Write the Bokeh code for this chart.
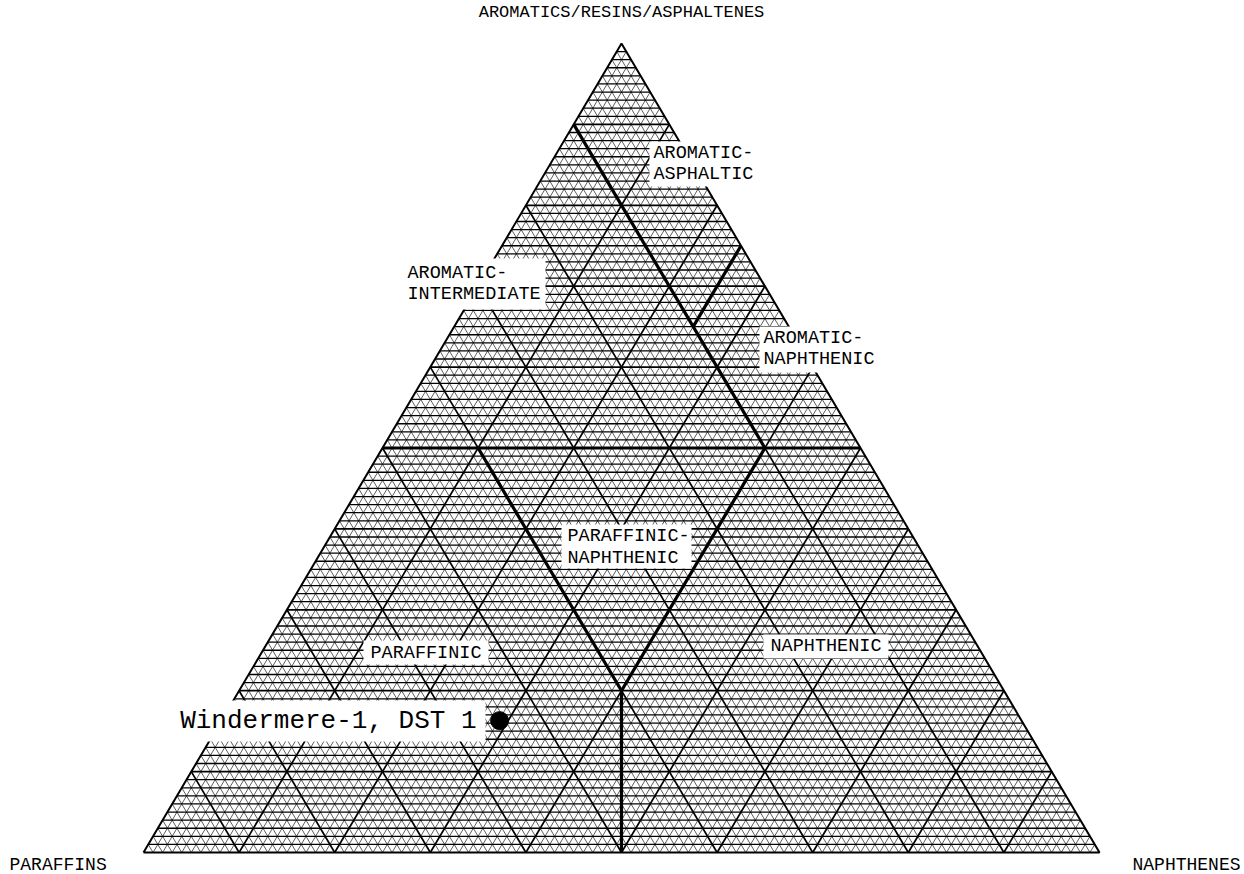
from bokeh.plotting import figure
from bokeh.models import Range1d
from bokeh.core.properties import value
from bokeh.embed import file_html
from bokeh.resources import INLINE

# ---------------- data ----------------
vertex_labels = ["PARAFFINS", "NAPHTHENES", "AROMATICS/RESINS/ASPHALTENES"]

region_line1 = ["AROMATIC-", "AROMATIC-", "AROMATIC-", "PARAFFINIC-", "PARAFFINIC", "NAPHTHENIC"]
region_line2 = ["ASPHALTIC", "INTERMEDIATE", "NAPHTHENIC", "NAPHTHENIC", "", ""]

# class boundaries, ternary percentages (paraffins, naphthenes, aromatics)
bnd_p0 = [50, 40, 40, 50, 10, 10]
bnd_n0 = [50, 40, 40, 0, 40, 25]
bnd_a0 = [0, 20, 20, 50, 50, 65]
bnd_p1 = [40, 40, 10, 0, 10, 0]
bnd_n1 = [40, 10, 40, 50, 0, 25]
bnd_a1 = [20, 50, 50, 50, 90, 75]

sample_names = ["Windermere-1, DST 1"]
sample_paraffins = [54.6]
sample_naphthenes = [29.1]
sample_aromatics = [16.3]

minor_step = 1
major_step = 10

# ---------------- geometry ----------------
def cart(p, n, a):
    tot = p + n + a
    n, a = n / tot, a / tot
    return n + a / 2.0, a

# pixel anchors of the triangle on the page
X0, XW = 143.0, 956.0     # left vertex x, base width (px)
Y0, YH = 852.0, 809.0     # base y, height (px)
W, H = 1244, 874
OFF = 0                   # page offset of the figure

def X(px):
    return (px - X0) / XW

def Y(py):
    return (Y0 - py) / YH

p = figure(width=W, height=H, output_backend="svg", toolbar_location=None,
           x_range=Range1d(X(OFF), X(OFF + W)), y_range=Range1d(Y(OFF + H), Y(OFF)),
           min_border=0, outline_line_color=None)
p.axis.visible = False
p.grid.visible = False
p.background_fill_color = "white"
p.border_fill_color = "white"

# grid lines
def grid_lines(step, skip=None):
    hx, hy, dx, dy = [], [], [], []
    for k in range(step, 100, step):
        if skip and k % skip == 0:
            continue
        f = k
        a0 = cart(100 - f, 0, f); a1 = cart(0, 100 - f, f)
        hx.append([a0[0], a1[0]]); hy.append([a0[1], a1[1]])
        b0 = cart(f, 100 - f, 0); b1 = cart(f, 0, 100 - f)
        dx.append([b0[0], b1[0]]); dy.append([b0[1], b1[1]])
        c0 = cart(100 - f, f, 0); c1 = cart(0, f, 100 - f)
        dx.append([c0[0], c1[0]]); dy.append([c0[1], c1[1]])
    return hx, hy, dx, dy

hx, hy, dx, dy = grid_lines(minor_step, skip=major_step)
p.multi_line(dx, dy, line_color="black", line_width=0.8, line_alpha=0.8)
p.multi_line(hx, hy, line_color="black", line_width=1.3, line_alpha=1.0)
Hx, Hy, Dx, Dy = grid_lines(major_step)
p.multi_line(Dx + Hx, Dy + Hy, line_color="black", line_width=1.7)

# outline
tri = [cart(100, 0, 0), cart(0, 100, 0), cart(0, 0, 100), cart(100, 0, 0)]
p.line([t[0] for t in tri], [t[1] for t in tri], line_color="black", line_width=2.0)

# class boundaries
bxs, bys = [], []
for i in range(len(bnd_p0)):
    s = cart(bnd_p0[i], bnd_n0[i], bnd_a0[i])
    e = cart(bnd_p1[i], bnd_n1[i], bnd_a1[i])
    bxs.append([s[0], e[0]]); bys.append([s[1], e[1]])
p.multi_line(bxs, bys, line_color="black", line_width=3.2)

font = value("Liberation Mono")

# region labels (left x, first-line y, box) in page pixels
reg_pos = [
    (653, 152.5, (649, 762, 141, 186)),
    (407, 272.5, (396, 545, 258, 309)),
    (763, 337.5, (759, 880, 326, 372)),
    (567, 536.0, (561, 691, 524, 568)),
    (370, 652.5, (363, 488, 640, 664)),
    (770, 646.0, (763, 888, 634, 658)),
]
for i, (lx, ly, (bl, br, bt, bb)) in enumerate(reg_pos):
    p.quad(left=[X(bl)], right=[X(br)], top=[Y(bt)], bottom=[Y(bb)],
           fill_color="white", line_color=None)
    p.text(x=[X(lx)], y=[Y(ly)], text=[region_line1[i]], text_font=font,
           text_font_size="18.5px", text_baseline="middle", text_align="left",
           text_color="black")
    if region_line2[i]:
        p.text(x=[X(lx)], y=[Y(ly + 21.5)], text=[region_line2[i]], text_font=font,
               text_font_size="18.5px", text_baseline="middle", text_align="left",
               text_color="black")

# sample point and label
sx, sy = [], []
for i in range(len(sample_names)):
    c = cart(sample_paraffins[i], sample_naphthenes[i], sample_aromatics[i])
    sx.append(c[0]); sy.append(c[1])
p.quad(left=[X(150)], right=[X(485)], top=[Y(700)], bottom=[Y(741)],
       fill_color="white", line_color=None)
p.text(x=[sx[0] - X(499) + X(476)], y=[sy[0]], text=[sample_names[0]], text_font=font,
       text_font_size="26px", text_baseline="middle", text_align="right",
       text_color="black")
p.scatter(sx, sy, size=18, marker="circle", fill_color="black", line_color="black")

# vertex labels
vp = [cart(100, 0, 0), cart(0, 100, 0), cart(0, 0, 100)]
p.text(x=[X(9)], y=[Y(864)], text=[vertex_labels[0]], text_font=font,
       text_font_size="18px", text_baseline="middle", text_align="left", text_color="black")
p.text(x=[X(1240)], y=[Y(864)], text=[vertex_labels[1]], text_font=font,
       text_font_size="18px", text_baseline="middle", text_align="right", text_color="black")
p.text(x=[vp[2][0]], y=[Y(12)], text=[vertex_labels[2]], text_font=font,
       text_font_size="17px", text_baseline="middle", text_align="center", text_color="black")

open("out.html", "w").write(file_html(p, INLINE))
